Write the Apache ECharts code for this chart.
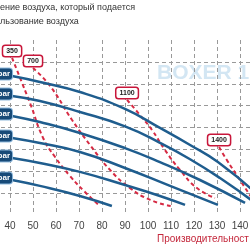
<!DOCTYPE html>
<html><head><meta charset="utf-8">
<script src="https://cdn.jsdelivr.net/npm/echarts@6/dist/echarts.min.js"></script>
<style>html,body{margin:0;padding:0;background:#fff;overflow:hidden;width:250px;height:250px}
#c{position:absolute;left:-33px;top:0;width:316px;height:250px}</style>
</head><body><div id="c"></div>
<script>
// x: flow (l/min), y: head (bar)
var xTicks = [40, 50, 60, 70, 80, 90, 100, 110, 120, 130, 140];
var pressureLabels = ['7 bar', '6 bar', '5 bar', '4 bar', '3 bar', '2 bar'];
var curve1 = [[40.9,6.35],[53,6.08],[70.4,5.62],[90,4.85],[105.2,3.98],[118.3,3.2],[130.4,2.42],[147,1.0]];
var curve2 = [[40.9,5.44],[53,5.21],[70.4,4.71],[90,4.05],[105.2,3.3],[118.3,2.55],[131.3,1.69],[146,0.6]];
var curve3 = [[40.9,4.53],[53,4.25],[70.4,3.75],[90,3.06],[105.2,2.42],[122.6,1.6],[142.2,0.55]];
var curve4 = [[40.9,3.52],[53,3.29],[70.4,2.88],[90,2.15],[109.6,1.33],[130.4,0.46]];
var curve5 = [[40.9,2.61],[53,2.38],[70.4,1.97],[90,1.37],[105.2,0.87],[116.1,0.46]];
var curve6 = [[40.9,1.6],[53,1.33],[70.4,0.87],[84.3,0.41]];
var airLabels = ['350', '700', '1100', '1400'];
var air1 = [[40.9,7.18],[44.4,6.26],[48.7,5.12],[54.4,3.52],[59.6,2.65],[66.1,1.78],[72.6,1.05],[79.1,0.41]];
var air2 = [[50,6.72],[57.4,5.9],[67,4.34],[74.8,3.2],[83.5,2.06],[92.2,1.23],[101,0.69],[110,0.41]];
var air3 = [[90.9,5.26],[96.5,4.57],[101.7,3.89],[107.4,2.97],[113.9,2.06],[121.3,1.23],[129.1,0.78]];
var air4 = [[130.9,3.11],[134.3,2.51],[139.1,1.74],[145,0.8]];

var curves = [curve1, curve2, curve3, curve4, curve5, curve6];
var airs = [air1, air2, air3, air4];
var series = [];
airs.forEach(function (d, i) {
  series.push({
    type: 'line', data: d, smooth: true, symbol: 'none', z: 3,
    lineStyle: { color: '#d62a43', width: 2, type: [4, 3] },
    markPoint: {
      symbol: 'rect', symbolSize: 0,
      data: [{ coord: d[0], value: airLabels[i] }],
      label: {
        show: true, position: 'top', distance: 2, formatter: airLabels[i],
        fontSize: 7, fontWeight: 'bold', color: '#222', fontFamily: 'Arial',
        backgroundColor: '#fff', borderColor: '#c8163a', borderWidth: 1.5,
        borderRadius: 2, padding: [2, 3, 1, 3]
      }
    }
  });
});
curves.forEach(function (d, i) {
  series.push({
    type: 'line', data: d, smooth: true, symbol: 'none', z: 4,
    lineStyle: { color: '#1f5d8e', width: 2.5 },
    markPoint: {
      symbol: 'rect', symbolSize: 0,
      data: [{ coord: d[0], value: pressureLabels[i] }],
      label: {
        show: true, position: 'left', distance: 0, offset: [0, -2], formatter: pressureLabels[i],
        fontSize: 8, fontWeight: 'bold', color: '#fff', fontFamily: 'Arial',
        backgroundColor: '#174a78', borderColor: '#8fb9dc', borderWidth: 1,
        borderRadius: 3, padding: [2, 2, 1, 3]
      }
    }
  });
});

var chart = echarts.init(document.getElementById('c'));
chart.setOption({
  animation: false,
  backgroundColor: '#fff',
  grid: { left: 20, right: 20, top: 40, bottom: 35 },
  xAxis: {
    type: 'value', min: 30, max: 150, interval: 10,
    axisLine: { show: false }, axisTick: { show: false },
    axisLabel: { color: '#444', fontSize: 10, fontFamily: 'Arial', margin: 6, showMinLabel: false, showMaxLabel: false },
    splitLine: { show: true, showMinLine: false, showMaxLine: false, lineStyle: { color: '#999', type: [4, 3], width: 1 } }
  },
  yAxis: {
    type: 'value', min: 0, max: 8, interval: 1,
    axisLine: { show: false }, axisTick: { show: false }, axisLabel: { show: false },
    splitLine: { show: true, showMinLine: false, showMaxLine: false, lineStyle: { color: '#999', type: [4, 3], width: 1 } }
  },
  graphic: [
    { type: 'text', left: 33, top: 3, style: { text: 'ение воздуха, который подается', fontSize: 9, fill: '#333', fontFamily: 'Arial' } },
    { type: 'text', left: 33, top: 17, style: { text: 'льзование воздуха', fontSize: 9, fill: '#333', fontFamily: 'Arial' } },
    { type: 'text', left: 190, top: 63, z: 0, style: { text: 'BOXER 1', fontSize: 21, fontWeight: 'bold', fill: '#d3e6f3', fontFamily: 'Arial' } },
    { type: 'text', left: 190, top: 234, style: { text: 'Производительност', fontSize: 10, fill: '#c4283c', fontFamily: 'Arial' } }
  ],
  series: series
});
</script></body></html>
